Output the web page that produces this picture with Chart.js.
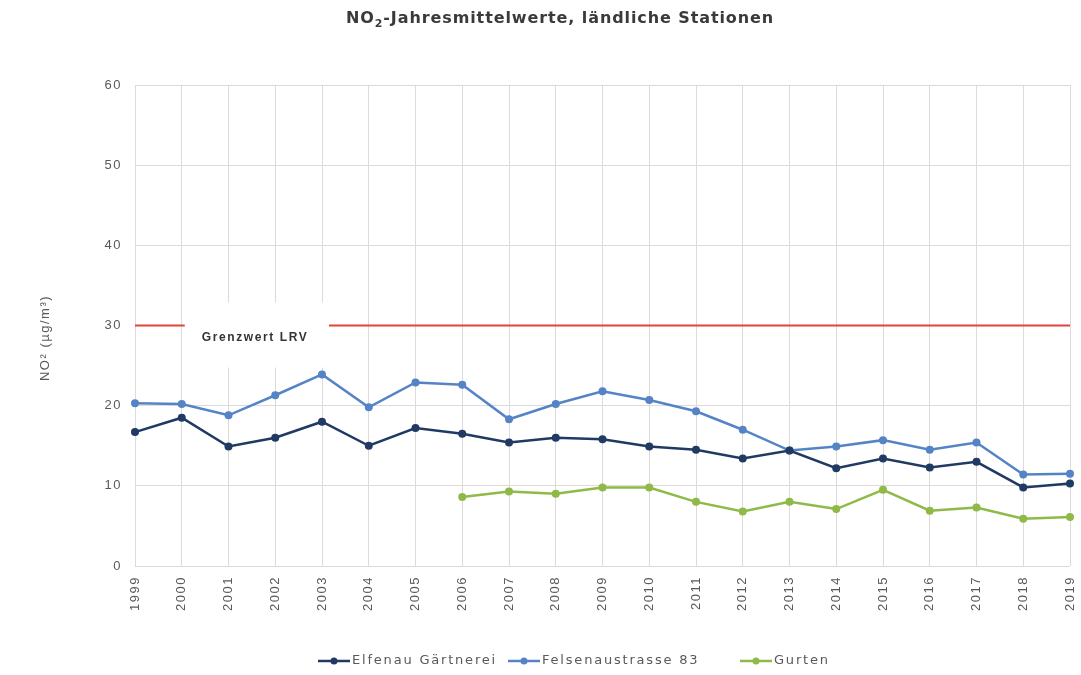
<!DOCTYPE html>
<html>
<head>
<meta charset="utf-8">
<script src="https://cdn.jsdelivr.net/npm/chart.js@4.4.0/dist/chart.umd.min.js"></script>
<style>
  html, body { margin: 0; padding: 0; background: #ffffff; }
  #wrap { width: 1081px; height: 675px; position: relative; }
</style>
</head>
<body>
<div id="wrap"><canvas id="chart" width="1081" height="675"></canvas></div>
<script>
// Jahre (x-Achse)
var years = ['1999', '2000', '2001', '2002', '2003', '2004', '2005', '2006', '2007', '2008', '2009',
             '2010', '2011', '2012', '2013', '2014', '2015', '2016', '2017', '2018', '2019'];

// Jahresmittelwerte NO2 in µg/m³
var elfenau = [16.7, 18.5, 14.9, 16.0, 18.0, 15.0, 17.2, 16.5, 15.4, 16.0, 15.8,
               14.9, 14.5, 13.4, 14.4, 12.2, 13.4, 12.3, 13.0, 9.8, 10.3];
var felsenau = [20.3, 20.2, 18.8, 21.3, 23.9, 19.8, 22.9, 22.6, 18.3, 20.2, 21.8,
                20.7, 19.3, 17.0, 14.4, 14.9, 15.7, 14.5, 15.4, 11.4, 11.5];
var gurten = [null, null, null, null, null, null, null, 8.6, 9.3, 9.0, 9.8,
              9.8, 8.0, 6.8, 8.0, 7.1, 9.5, 6.9, 7.3, 5.9, 6.1];

// Grenzwert LRV
var grenzwert = 30;
var grenzwertLine = years.map(function () { return grenzwert; });

var yTicks = [0, 10, 20, 30, 40, 50, 60];

var colElfenau = '#213a63';
var colFelsenau = '#5584c6';
var colGurten = '#8fba48';
var colGrenz = '#e0443a';
var FONT = '"Liberation Sans", Arial, sans-serif';
var WIDE = '"DejaVu Sans", sans-serif';

// leichte Sperrung der Achsenbeschriftungen
function spaced(scale, spacing) {
    if (scale._spacedPatched) return;
    var orig = scale.drawLabels;
    scale.drawLabels = function (area) {
        var ctx = this.ctx;
        ctx.save();
        ctx.letterSpacing = spacing;
        orig.call(this, area);
        ctx.restore();
    };
    scale._spacedPatched = true;
}

// Titel, Grenzwert-Beschriftung und Legende
var extrasPlugin = {
    id: 'extras',
    afterLayout: function (chart) {
        spaced(chart.scales.x, '1.5px');
        spaced(chart.scales.y, '1.5px');
    },
    afterDatasetDraw: function (chart, args) {
        if (args.index !== 3) return;
        var ctx = chart.ctx;
        var x = chart.scales.x;
        var y = chart.scales.y;
        var y30 = y.getPixelForValue(grenzwert);
        var left = x.getPixelForValue(1) + 3;
        var right = x.getPixelForValue(4) + 7;
        ctx.save();
        ctx.fillStyle = '#ffffff';
        ctx.fillRect(left, y30 - 23, right - left, 65);
        ctx.fillStyle = '#333333';
        ctx.font = 'bold 12px ' + FONT;
        ctx.letterSpacing = '1.6px';
        ctx.textAlign = 'left';
        ctx.textBaseline = 'middle';
        ctx.fillText('Grenzwert LRV', left + 17, y30 + 12);
        ctx.restore();
    },
    afterDraw: function (chart) {
        var ctx = chart.ctx;

        // Titel mit tiefgestellter 2
        ctx.save();
        ctx.letterSpacing = '0.9px';
        var t1 = 'NO';
        var t2 = '2';
        var t3 = '-Jahresmittelwerte, ländliche Stationen';
        ctx.font = 'bold 16px ' + WIDE;
        var w1 = ctx.measureText(t1).width;
        var w3 = ctx.measureText(t3).width;
        ctx.font = 'bold 11px ' + WIDE;
        var w2 = ctx.measureText(t2).width;
        var sx = 560 - (w1 + w2 + w3) / 2;
        ctx.fillStyle = '#3a3a3a';
        ctx.textAlign = 'left';
        ctx.textBaseline = 'middle';
        ctx.font = 'bold 16px ' + WIDE;
        ctx.fillText(t1, sx, 19);
        ctx.font = 'bold 11px ' + WIDE;
        ctx.fillText(t2, sx + w1, 24);
        ctx.font = 'bold 16px ' + WIDE;
        ctx.fillText(t3, sx + w1 + w2, 19);
        ctx.restore();

        // y-Achsentitel
        ctx.save();
        ctx.translate(45, 338);
        ctx.rotate(-Math.PI / 2);
        ctx.letterSpacing = '1.5px';
        ctx.font = '13px ' + FONT;
        ctx.fillStyle = '#595959';
        ctx.textAlign = 'center';
        ctx.textBaseline = 'middle';
        ctx.fillText('NO² (µg/m³)', 0, 0);
        ctx.restore();

        // Legende
        var items = [
            { text: 'Elfenau Gärtnerei', color: colElfenau, x: 318 },
            { text: 'Felsenaustrasse 83', color: colFelsenau, x: 508 },
            { text: 'Gurten', color: colGurten, x: 740 }
        ];
        var ly = 661;
        ctx.save();
        ctx.font = '13px ' + WIDE;
        ctx.letterSpacing = '1.8px';
        ctx.textBaseline = 'middle';
        items.forEach(function (it) {
            ctx.strokeStyle = it.color;
            ctx.lineWidth = 2.5;
            ctx.beginPath();
            ctx.moveTo(it.x, ly);
            ctx.lineTo(it.x + 32, ly);
            ctx.stroke();
            ctx.fillStyle = it.color;
            ctx.beginPath();
            ctx.arc(it.x + 16, ly, 3.5, 0, Math.PI * 2);
            ctx.fill();
            ctx.fillStyle = '#595959';
            ctx.fillText(it.text, it.x + 34, ly);
        });
        ctx.restore();
    }
};

function serie(label, data, color) {
    return {
        label: label,
        data: data,
        borderColor: color,
        backgroundColor: color,
        borderWidth: 2.5,
        pointRadius: 4,
        pointBorderWidth: 0,
        pointBackgroundColor: color,
        tension: 0,
        spanGaps: false
    };
}

var chart = new Chart(document.getElementById('chart').getContext('2d'), {
    type: 'line',
    data: {
        labels: years,
        datasets: [
            serie('Elfenau Gärtnerei', elfenau, colElfenau),
            serie('Felsenaustrasse 83', felsenau, colFelsenau),
            serie('Gurten', gurten, colGurten),
            {
                label: 'Grenzwert LRV',
                data: grenzwertLine,
                borderColor: colGrenz,
                borderWidth: 2,
                pointRadius: 0
            }
        ]
    },
    options: {
        responsive: false,
        animation: false,
        layout: { padding: { top: 85, left: 30, right: 11, bottom: 40 } },
        plugins: {
            legend: { display: false },
            title: { display: false },
            tooltip: { enabled: false }
        },
        scales: {
            x: {
                offset: false,
                grid: { color: '#dedada', drawTicks: false },
                border: { display: false },
                ticks: {
                    color: '#595959',
                    font: { family: FONT, size: 13 },
                    minRotation: 90,
                    maxRotation: 90,
                    padding: 10
                },
                afterFit: function (s) {
                    s.height = 69;
                    s.paddingLeft = 0;
                    s.paddingRight = 0;
                }
            },
            y: {
                min: 0,
                max: 60,
                afterBuildTicks: function (s) {
                    s.ticks = yTicks.map(function (v) { return { value: v }; });
                },
                grid: { color: '#dedada', drawTicks: false },
                border: { display: false },
                ticks: {
                    color: '#595959',
                    font: { family: FONT, size: 13 },
                    padding: 13
                },
                afterFit: function (s) {
                    s.width = 105;
                    s.paddingTop = 0;
                    s.paddingBottom = 0;
                }
            }
        }
    },
    plugins: [extrasPlugin]
});
</script>
</body>
</html>
